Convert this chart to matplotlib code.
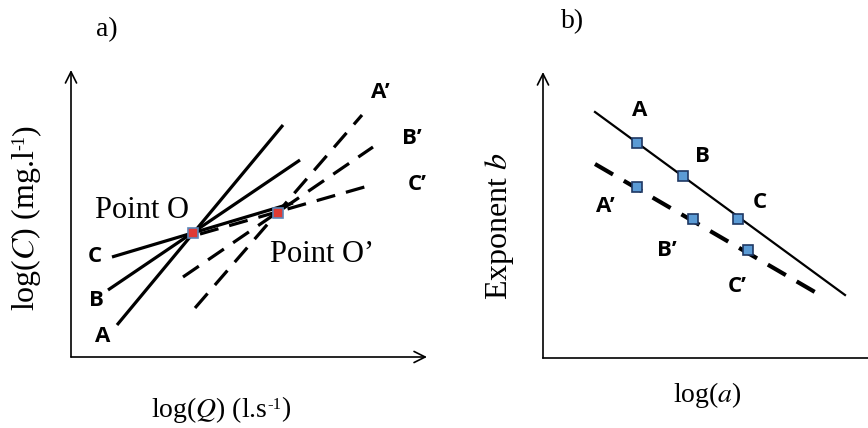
import numpy as np
import matplotlib.pyplot as plt

plt.rcParams['mathtext.fontset'] = 'stix'

W, H = 868, 428

# panel a: log(C) vs log(Q) lines, (x0, y0, x1, y1)
lines_a = {'A': (46, 32, 212, 232), 'B': (37, 67, 229, 197), 'C': (41, 100, 222, 154)}
lines_a_dash = {'A\u2019': (124, 49, 291, 242), 'B\u2019': (112, 80, 302, 210), 'C\u2019': (129, 123, 297, 171)}
point_o = (122, 124)
point_o2 = (207, 144)
labels_a = {'A': (32, 20), 'B': (25, 57), 'C': (24, 100),
            'A\u2019': (309, 265), 'B\u2019': (341, 219), 'C\u2019': (346, 172)}

# panel b: exponent b vs log(a)
line_b = (52, 246, 302, 63)
line_b_dash = (52, 194, 277, 63)
pts_b_x = [94, 140, 195]
pts_b_y = [215, 182, 139]
pts_b2_x = [94, 150, 205]
pts_b2_y = [171, 139, 108]
labels_b = {'A': (97, 248), 'B': (159, 201), 'C': (217, 155),
            'A\u2019': (62, 151), 'B\u2019': (124, 108), 'C\u2019': (194, 71)}

fig = plt.figure(figsize=(W / 100, H / 100), dpi=100)


def px_axes(x0, y0, x1, y1):
    return fig.add_axes([x0 / W, 1 - y1 / H, (x1 - x0) / W, (y1 - y0) / H])


def ftext(x, y, s, ha='center', va='center', **kw):
    return fig.text(x / W, 1 - y / H, s, ha=ha, va=va, **kw)


def arrow_axes(ax, right_arrow=True):
    for s in ax.spines.values():
        s.set_visible(False)
    ax.set_xticks([])
    ax.set_yticks([])
    ax.patch.set_alpha(0)
    ap = dict(arrowstyle='->', lw=1.2, color='black', mutation_scale=20, shrinkA=0, shrinkB=0)
    ax.annotate('', xy=(0, 1), xytext=(0, 0), xycoords='axes fraction', arrowprops=ap)
    if right_arrow:
        ax.annotate('', xy=(1, 0), xytext=(0, 0), xycoords='axes fraction', arrowprops=ap)
    else:
        ax.plot([0, 1], [0, 0], transform=ax.transAxes, color='black', lw=1.2, clip_on=False)


lab_font = dict(family='Open Sans', fontweight='bold', fontsize=16)
serif = dict(family='Liberation Serif', fontsize=20)
serif_v = dict(family='Liberation Serif', fontsize=23)
sup = dict(family='Liberation Serif', fontsize=12)

# ---- a) ----
ax1 = px_axes(71, 70, 427, 357)
arrow_axes(ax1)
ax1.set_xlim(0, 356)
ax1.set_ylim(0, 287)
for k, (x0, y0, x1, y1) in lines_a.items():
    ax1.plot([x0, x1], [y0, y1], color='black', lw=2.3, solid_capstyle='butt')
for k, (x0, y0, x1, y1) in lines_a_dash.items():
    ax1.plot([x0, x1], [y0, y1], color='black', lw=2.3, dashes=(6, 3.5))
for p in (point_o, point_o2):
    ax1.plot(*p, marker='s', ms=6.5, mfc='#E03A34', mec='#5E86B8', mew=1.2, zorder=5)
for k, (x, y) in labels_a.items():
    ax1.text(x, y, k, ha='center', va='center', clip_on=False, **lab_font)
ax1.text(71, 147, 'Point O', ha='center', va='center', family='Liberation Serif', fontsize=22)
ax1.text(251, 102, 'Point O\u2019', ha='center', va='center', family='Liberation Serif', fontsize=22)

# ---- b) ----
ax2 = px_axes(543, 72, 868, 358)
arrow_axes(ax2, right_arrow=False)
ax2.set_xlim(0, 325)
ax2.set_ylim(0, 286)
ax2.plot(line_b[0::2], line_b[1::2], color='black', lw=1.6)
ax2.plot(line_b_dash[0::2], line_b_dash[1::2], color='black', lw=3, dashes=(5, 3))
ax2.plot(pts_b_x, pts_b_y, ls='none', marker='s', ms=7.5, mfc='#5B9BD5', mec='#1F3864', mew=1.2, zorder=5)
ax2.plot(pts_b2_x, pts_b2_y, ls='none', marker='s', ms=7.5, mfc='#5B9BD5', mec='#1F3864', mew=1.2, zorder=5)
for k, (x, y) in labels_b.items():
    ax2.text(x, y, k, ha='center', va='center', clip_on=False, **lab_font)

# panel titles and axis labels
ftext(107, 30, 'a)', **serif)
ftext(573, 22, 'b)', **serif)

# x label of a) with a small superscript unit
xl = ftext(151, 410, r'log($\mathit{Q}$) (l.s', ha='left', **serif)
xs = plt.annotate('-1', xy=(1, 0.93), xycoords=xl, ha='left', va='top', annotation_clip=False, **sup)
plt.annotate(')', xy=(1, 0.5), xycoords=(xs, xl), ha='left', va='center', annotation_clip=False, **serif)

# y label of a)
yl = ftext(26, 311, r'log($\mathit{C}$) (mg.l', rotation=90, va='bottom', **serif_v)
ys = plt.annotate('-1', xy=(0.07, 1), xycoords=yl, ha='left', va='bottom', rotation=90,
                  annotation_clip=False, fontsize=13, family='Liberation Serif')
plt.annotate(')', xy=(0.5, 1), xycoords=(yl, ys), ha='center', va='bottom', rotation=90,
             annotation_clip=False, **serif_v)

ftext(707, 395, r'log($\mathit{a}$)', **serif)
ftext(500, 226, r'Exponent $\mathit{b}$', rotation=90, **serif_v)

fig.savefig('out.png', dpi=100)
